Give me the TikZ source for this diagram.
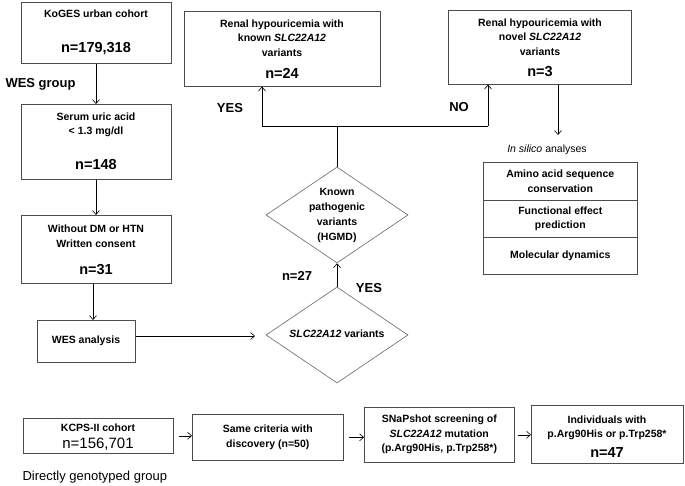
\documentclass[tikz,border=0pt]{standalone}
\usepackage{fontspec}
\setmainfont{Liberation Sans}
\usetikzlibrary{shapes.geometric,arrows.meta}
\begin{document}
\begin{tikzpicture}[x=1pt,y=-1pt,
  box/.style={draw=black!70,line width=0.6pt,inner sep=0pt},
  t/.style={font=\fontsize{10.5}{14.5}\selectfont\bfseries,align=center},
  big/.style={font=\fontsize{14.5}{16}\selectfont\bfseries},
  lab/.style={font=\fontsize{13}{15}\selectfont\bfseries},
  arr/.style={-{Straight Barb[length=4pt,width=7pt]},line width=0.6pt},
  dia/.style={draw=black!60,diamond,line width=0.6pt,inner sep=0pt}]
\useasboundingbox (0,0) rectangle (685,486);
% left column
\node[box,minimum width=150,minimum height=61,anchor=north west] (k) at (21,2) {};
\node[t] (kt) at (96,14) {KoGES urban cohort};
\node[big] (kn) at (96,49) {n=179,318};
\node[lab,anchor=west] (wg) at (2,84) {WES group};
\node[box,minimum width=150,minimum height=75,anchor=north west] (s) at (21,104) {};
\node[t] (st) at (96,125) {Serum uric acid\\ < 1.3 mg/dl};
\node[big] (sn) at (96,165) {n=148};
\node[box,minimum width=150,minimum height=68,anchor=north west] (w) at (21,215) {};
\node[t] (wt) at (96,236) {Without DM or HTN\\ Written consent};
\node[big] (wn) at (96,270) {n=31};
\node[box,minimum width=98,minimum height=42,anchor=north west] (a) at (37,320) {};
\node[t] (at) at (86,341) {WES analysis};
\draw[arr] (k.south -| 96,0) -- (s.north -| 96,0);
\draw[arr] (s.south -| 96,0) -- (w.north -| 96,0);
\draw[arr] (w.south -| 93,0) -- (a.north -| 93,0);
% diamonds
\node[dia,minimum width=142,minimum height=96] (d1) at (337,335) {};
\node[t] (d1t) at (337,334) {\textit{SLC22A12} variants};
\node[dia,minimum width=142,minimum height=96] (d2) at (337,215) {};
\node[t,font=\fontsize{10.5}{15}\selectfont\bfseries] (d2t) at (337,215) {Known\\ pathogenic\\ variants\\ (HGMD)};
\draw[arr] (a.east |- 0,336) -- (255,336);
\draw[arr] (d1.north) -- (d2.south);
\node[lab] (n27) at (297,276) {n=27};
\node[lab] (y1) at (369,288) {YES};
% top boxes
\node[box,minimum width=196,minimum height=75,anchor=north west] (r1) at (184,11) {};
\node[t] (r1t) at (282,38) {Renal hypouricemia with\\ known \textit{SLC22A12}\\ variants};
\node[big] (r1n) at (282,73) {n=24};
\node[box,minimum width=183,minimum height=74,anchor=north west] (r2) at (448,10) {};
\node[t] (r2t) at (540,37) {Renal hypouricemia with\\ novel \textit{SLC22A12}\\ variants};
\node[big] (r2n) at (540,72) {n=3};
\coordinate (j) at (337,126);
\coordinate (jl) at (262,126);
\coordinate (jr) at (488,126);
\draw[line width=0.6pt] (d2.north) -- (j) -- (jl);
\draw[line width=0.6pt] (j) -- (jr);
\draw[arr] (jl) -- (jl |- r1.south);
\draw[arr] (jr) -- (jr |- r2.south);
\node[lab] (yes) at (230,108) {YES};
\node[lab] (no) at (459,107) {NO};
% in silico
\node[t] (is) at (547,150) {\textit{\fontseries{m}\selectfont In silico} {\fontseries{m}\selectfont analyses}};
\draw[arr] (r2.south -| 558,0) -- (558,135);
\node[box,minimum width=154,minimum height=38,anchor=north west] (b1) at (483,162) {};
\node[t] at (b1) {Amino acid sequence\\ conservation};
\node[box,minimum width=154,minimum height=37,anchor=north west] (b2) at (483,200) {};
\node[t] at (b2) {Functional effect\\ prediction};
\node[box,minimum width=154,minimum height=37,anchor=north west] (b3) at (483,237) {};
\node[t] at (b3) {Molecular dynamics};
% bottom row
\node[box,minimum width=150,minimum height=35,anchor=north west] (c1) at (23,418) {};
\node[t] at (98,428) {KCPS-II cohort};
\node[big,font=\fontsize{15}{16}\selectfont] at (98,444) {n=156,701};
\node[box,minimum width=151,minimum height=46,anchor=north west] (c2) at (192,414) {};
\node[t] at (c2) {Same criteria with\\ discovery (n=50)};
\node[box,minimum width=150,minimum height=55,anchor=north west] (c3) at (364,407) {};
\node[t] at (c3) {SNaPshot screening of\\ \textit{SLC22A12} mutation\\ (p.Arg90His, p.Trp258*)};
\node[box,minimum width=152,minimum height=58,anchor=north west] (c4) at (531,405) {};
\node[t] at (607,428) {Individuals with\\ p.Arg90His or p.Trp258*};
\node[big] at (607,453) {n=47};
\draw[arr] (c1.east) ++(5,0) -- (c2.west |- c1.east);
\draw[arr] (c2.east) ++(5,0) -- (c3.west |- c2.east);
\draw[arr] (c3.east) ++(3,0) -- (c4.west |- c3.east);
\node[lab,font=\fontsize{13}{15}\selectfont,anchor=west] at (19,477) {Directly genotyped group};
\end{tikzpicture}
\end{document}
